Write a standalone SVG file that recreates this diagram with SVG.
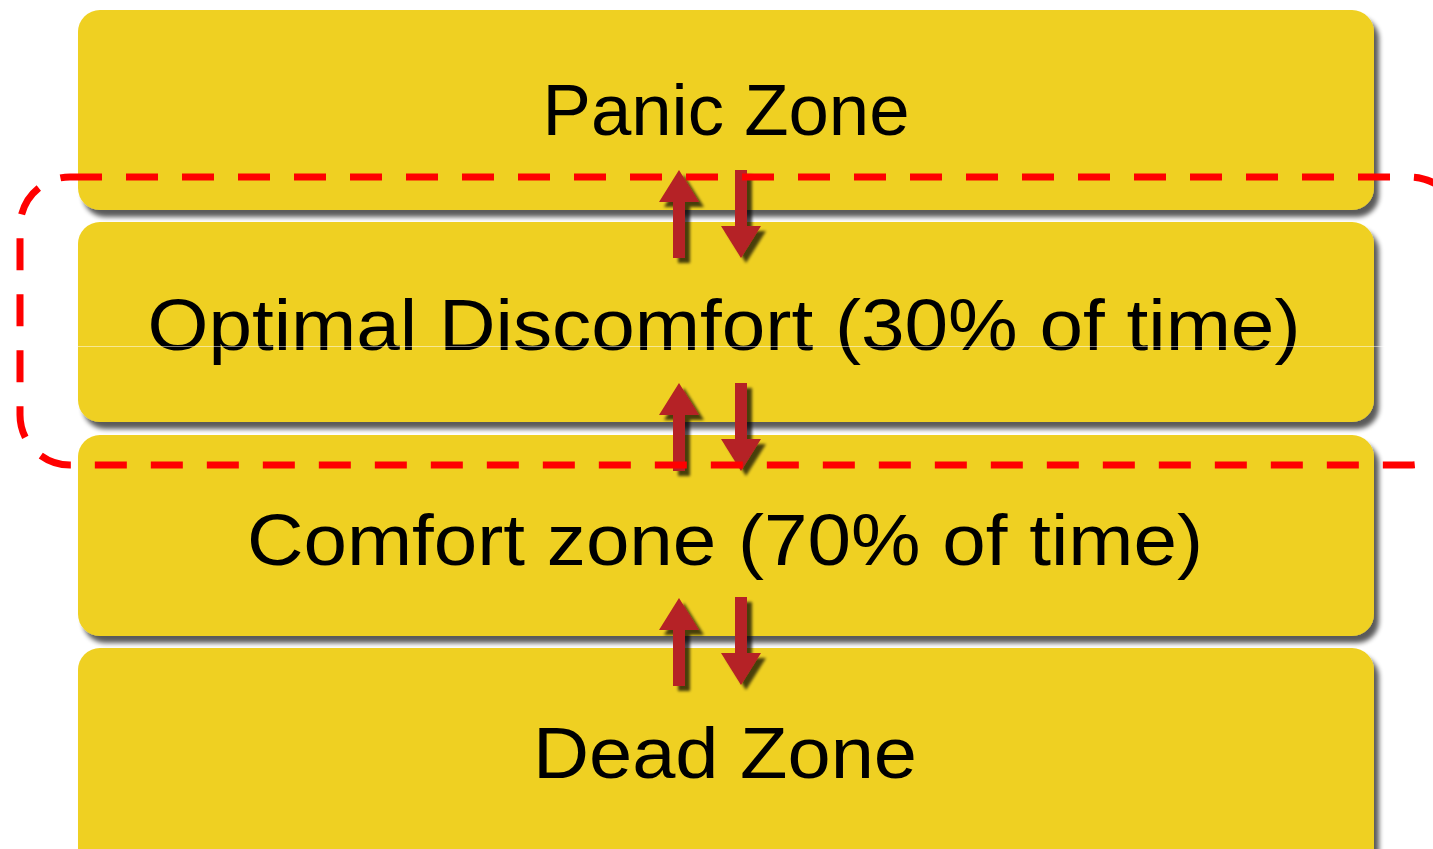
<svg xmlns="http://www.w3.org/2000/svg" width="1433" height="849" viewBox="0 0 1433 849">
<style>
.box{fill:#EFD020;filter:url(#sh);}
.lbl{font-family:"Liberation Sans",Arial,sans-serif;font-size:72px;fill:#000;text-anchor:middle;}
.arr{fill:#B52025;filter:url(#ash);}
.zone{fill:none;stroke:#FF0000;stroke-width:7;stroke-dasharray:32 24;}
</style>
<defs>
<filter id="sh" x="-5%" y="-10%" width="110%" height="125%">
<feGaussianBlur in="SourceAlpha" stdDeviation="2.5" result="b"/>
<feOffset in="b" dx="5" dy="7" result="o"/>
<feComponentTransfer in="o" result="s"><feFuncA type="linear" slope="0.65"/></feComponentTransfer>
<feMerge><feMergeNode in="s"/><feMergeNode in="SourceGraphic"/></feMerge>
</filter>
<filter id="ash" x="-50%" y="-20%" width="200%" height="140%">
<feGaussianBlur in="SourceAlpha" stdDeviation="1.5" result="b"/>
<feOffset in="b" dx="5" dy="5" result="o"/>
<feComponentTransfer in="o" result="s"><feFuncA type="linear" slope="0.7"/></feComponentTransfer>
<feMerge><feMergeNode in="s"/><feMergeNode in="SourceGraphic"/></feMerge>
</filter>
<path id="up" d="M0,0 L20,32 L6,32 L6,88 L-6,88 L-6,32 L-20,32 Z"/>
<path id="down" d="M0,88 L20,56 L6,56 L6,0 L-6,0 L-6,56 L-20,56 Z"/>
</defs>
<rect width="1433" height="849" fill="#FFFFFF"/>
<g id="dead-zone">
<rect class="box" x="78" y="648" width="1296" height="230" rx="22"/>
<text class="lbl" x="725" y="778" textLength="384" lengthAdjust="spacingAndGlyphs">Dead Zone</text>
</g>
<g id="comfort-zone">
<rect class="box" x="78" y="435" width="1296" height="201" rx="22"/>
<text class="lbl" x="725" y="565" textLength="956" lengthAdjust="spacingAndGlyphs">Comfort zone (70% of time)</text>
</g>
<g id="optimal-discomfort">
<rect class="box" x="78" y="222" width="1296" height="200" rx="22"/>
<text class="lbl" x="724" y="350" textLength="1153" lengthAdjust="spacingAndGlyphs">Optimal Discomfort (30% of time)</text>
</g>
<g id="panic-zone">
<rect class="box" x="78" y="10" width="1296" height="200" rx="22"/>
<text class="lbl" x="726" y="135" textLength="367" lengthAdjust="spacingAndGlyphs">Panic Zone</text>
</g>
<g id="connectors">
<use href="#up" class="arr" x="679" y="170"/>
<use href="#down" class="arr" x="741" y="170"/>
<use href="#up" class="arr" x="679" y="383"/>
<use href="#down" class="arr" x="741" y="383"/>
<use href="#up" class="arr" x="679" y="598"/>
<use href="#down" class="arr" x="741" y="597"/>
</g>
<g id="optimal-region">
<rect class="zone" x="20" y="177" width="1440" height="288" rx="50"/>
</g>
<line x1="78" y1="346.5" x2="1395" y2="346.5" stroke="#FFFFFF" stroke-opacity="0.5" stroke-width="1"/>
</svg>
